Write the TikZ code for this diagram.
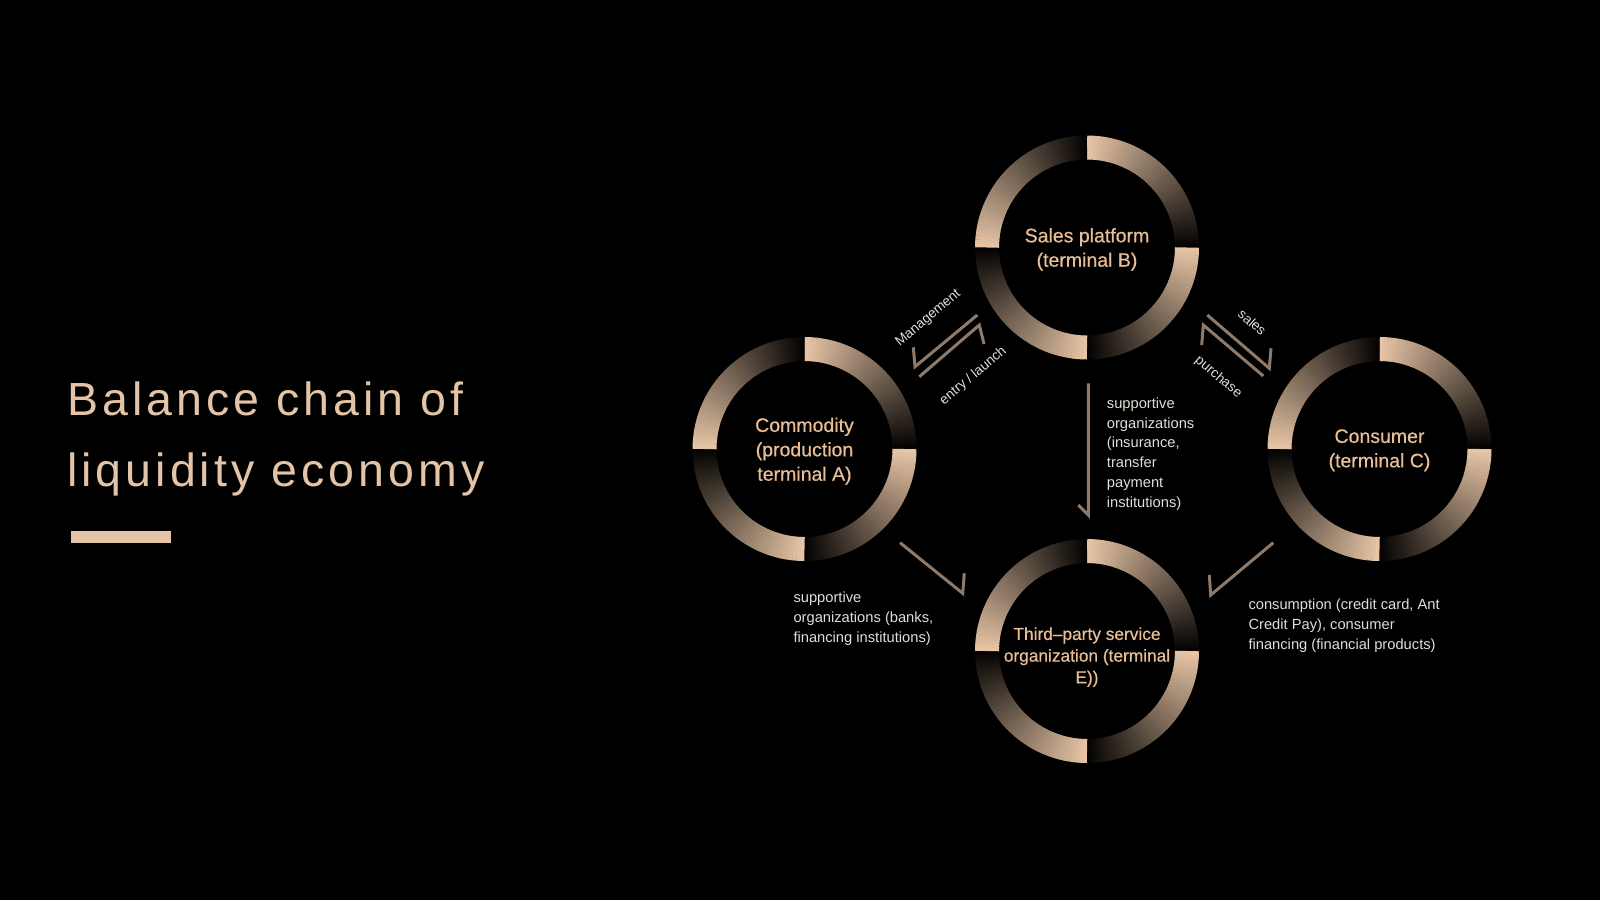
\documentclass[tikz,border=0pt]{standalone}
\usepackage{fontspec}
\setmainfont{Liberation Sans}
\newfontfamily\titlefont{Liberation Sans}[LetterSpace=8.7]
\newfontfamily\labfont{Liberation Sans}[FakeBold=0.5]
\usetikzlibrary{calc}
\definecolor{ringlight}{HTML}{E6C4A5}
\definecolor{ringdark}{HTML}{050403}
\definecolor{titlecol}{HTML}{E3C4A6}
\definecolor{labcol}{HTML}{E9BE97}
\definecolor{txtcol}{HTML}{E2DDD6}
\definecolor{arrcol}{HTML}{8E7A6A}
\newcommand\drawgradring[1]{%
  \foreach \q in {0,1,2,3}{%
    \foreach \i in {0,...,44}{%
      \pgfmathsetmacro\aa{\q*90-90+\i*2}%
      \pgfmathsetmacro\bb{min(\aa+2.4,\q*90)}%
      \pgfmathsetmacro\pc{100-\i*100/44}%
      \draw[line width=24pt, ringlight!\pc!ringdark] ($(#1)+(\aa:100)$) arc[start angle=\aa, end angle=\bb, radius=100];
    }%
  }%
}
\begin{document}
\begin{tikzpicture}[x=1pt,y=-1pt,
  lab/.style={font=\labfont\fontsize{19.5}{24.4}\selectfont, text=labcol, align=center, inner sep=0, anchor=base},
  labsm/.style={font=\labfont\fontsize{17.3}{21.7}\selectfont, text=labcol, align=center, inner sep=0, anchor=base},
  txt/.style={font=\fontsize{14.7}{19.8}\selectfont, text=txtcol, align=left, inner sep=0, anchor=base west},
  arrlab/.style={font=\fontsize{13.7}{16}\selectfont, text=txtcol, inner sep=0},
  harp/.style={draw=arrcol, line width=3pt, line join=miter, line cap=butt}]
\fill[black] (0,0) rectangle (1600,900);
\useasboundingbox (0,0) rectangle (1600,900);

% title (anchored at the baseline of its last line)
\node[anchor=base west, inner sep=0, font=\titlefont\fontsize{46.5}{71.7}\selectfont, text=titlecol, align=left] (title) at (67,486.7) {Balance chain of\\liquidity economy};
\fill[titlecol] (71,531) rectangle (170.7,543.3);

% ring centres
\coordinate (cB) at (1087,247.5);
\coordinate (cA) at (804.5,449);
\coordinate (cC) at (1379.5,449);
\coordinate (cE) at (1087,651);
\drawgradring{cB}
\drawgradring{cA}
\drawgradring{cC}
\drawgradring{cE}

% circle labels (anchored at last baseline)
\node[lab] (lB) at (1087,266.7) {Sales platform\\(terminal B)};
\node[lab] (lA) at (804.5,480.7) {Commodity\\(production\\terminal A)};
\node[lab] (lC) at (1379.5,467.3) {Consumer\\(terminal C)};
\node[labsm] (lE) at (1087,683.3) {Third–party service\\organization (terminal\\E))};

% harpoon arrows
\coordinate (m1) at (977.3,315); \coordinate (m2) at (915,366.7); \coordinate (m3) at (913.3,347.3);
\coordinate (e1) at (919.3,376.7); \coordinate (e2) at (979.3,325); \coordinate (e3) at (984,344);
\coordinate (s1) at (1207.3,315); \coordinate (s2) at (1269.3,368.3); \coordinate (s3) at (1271,348.3);
\coordinate (p1) at (1263.3,376); \coordinate (p2) at (1203.3,325); \coordinate (p3) at (1201.7,345);
\coordinate (v1) at (1088.3,383.3); \coordinate (v2) at (1088.3,515); \coordinate (v3) at (1078.3,505);
\coordinate (a1) at (900,542.7); \coordinate (a2) at (962.7,593.3); \coordinate (a3) at (964.3,573.3);
\coordinate (c1) at (1273.3,542.7); \coordinate (c2) at (1210.7,595); \coordinate (c3) at (1209.3,575);
\draw[harp] (m1) -- (m2) -- (m3);
\draw[harp] (e1) -- (e2) -- (e3);
\draw[harp] (s1) -- (s2) -- (s3);
\draw[harp] (p1) -- (p2) -- (p3);
\draw[harp] (v1) -- (v2) -- (v3);
\draw[harp] (a1) -- (a2) -- (a3);
\draw[harp] (c1) -- (c2) -- (c3);

% arrow labels
\node[arrlab, rotate=40] (tman) at (928.3,318.3) {Management};
\node[arrlab, rotate=40] (tent) at (973.3,376) {entry / launch};
\node[arrlab, rotate=-41] (tsal) at (1252.3,322.3) {sales};
\node[arrlab, rotate=-40] (tpur) at (1218.3,377.3) {purchase};

% descriptive texts (anchored at last baseline)
\node[txt] (tv) at (1106.7,507.3) {supportive\\organizations\\(insurance,\\transfer\\payment\\institutions)};
\node[txt] (tae) at (793.3,642.5) {supportive\\organizations (banks,\\financing institutions)};
\node[txt] (tce) at (1248.3,649.5) {consumption (credit card, Ant\\Credit Pay), consumer\\financing (financial products)};
\end{tikzpicture}
\end{document}
